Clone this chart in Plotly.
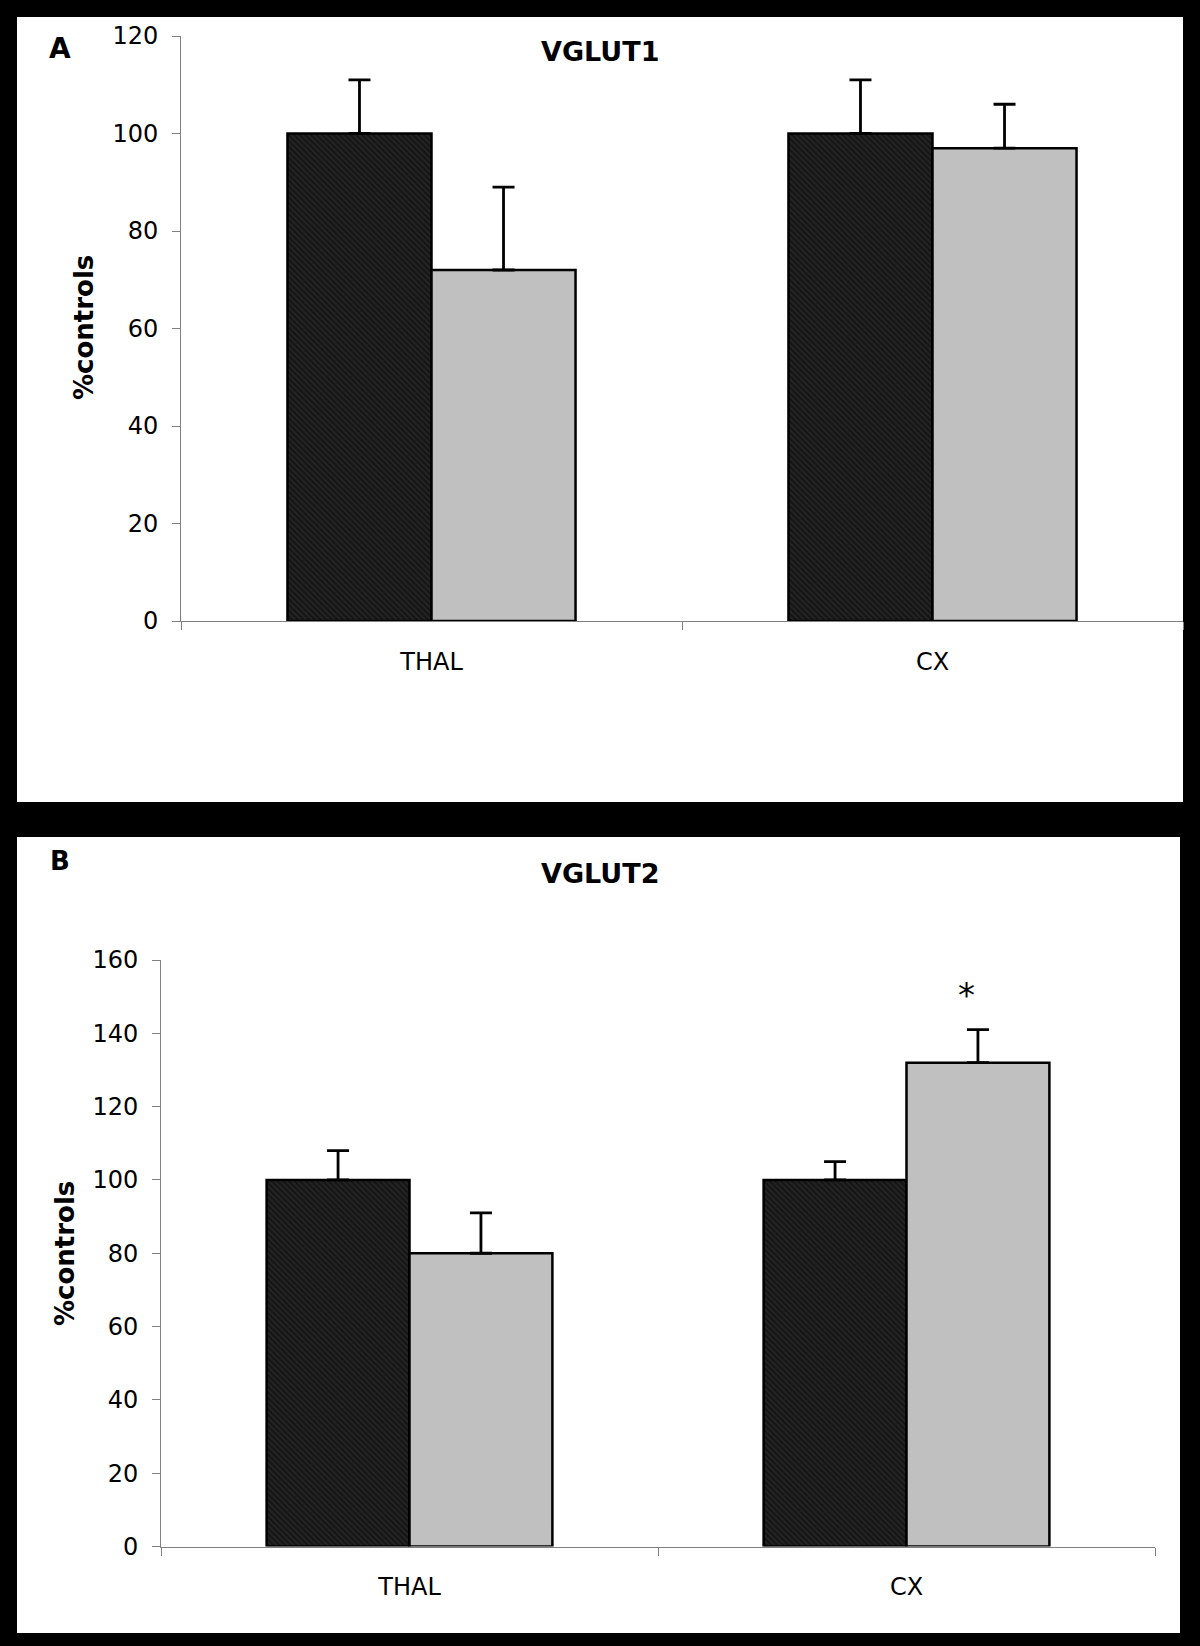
import plotly.graph_objects as go

# ---- data ----
regions = ["THAL", "CX"]
vglut1_control = [100, 100]
vglut1_control_err = [11, 11]
vglut1_treated = [72, 97]
vglut1_treated_err = [17, 9]

vglut2_control = [100, 100]
vglut2_control_err = [8, 5]
vglut2_treated = [80, 132]
vglut2_treated_err = [11, 9]

y1_ticks = [0, 20, 40, 60, 80, 100, 120]
y2_ticks = [0, 20, 40, 60, 80, 100, 120, 140, 160]

W, H = 1200, 1646
FONT = "DejaVu Sans"
AXC = "#808080"


def px(x):
    return x / W


def py(y):
    return 1 - y / H


fig = go.Figure()


def add_bars(xa, ya, ctrl, ctrl_err, trt, trt_err):
    fig.add_trace(go.Bar(
        x=regions, y=ctrl, xaxis=xa, yaxis=ya, name="Control",
        marker=dict(color="#1a1a1a", line=dict(color="black", width=2.5),
                    pattern=dict(shape="\\", fgcolor="#3a3a3a", bgcolor="#161616",
                                 size=4, solidity=0.35)),
        error_y=dict(type="data", array=ctrl_err, arrayminus=[0, 0], symmetric=False,
                     color="black", thickness=2.8, width=11),
        showlegend=False,
    ))
    fig.add_trace(go.Bar(
        x=regions, y=trt, xaxis=xa, yaxis=ya, name="Treated",
        marker=dict(color="#c0c0c0", line=dict(color="black", width=2.5)),
        error_y=dict(type="data", array=trt_err, arrayminus=[0, 0], symmetric=False,
                     color="black", thickness=2.8, width=11),
        showlegend=False,
    ))


add_bars("x", "y", vglut1_control, vglut1_control_err, vglut1_treated, vglut1_treated_err)
add_bars("x2", "y2", vglut2_control, vglut2_control_err, vglut2_treated, vglut2_treated_err)

tickfont = dict(family=FONT, size=24, color="black")
xcommon = dict(type="category", range=[-0.5, 1.5], showline=True, linecolor=AXC, linewidth=1,
               ticks="outside", tickson="boundaries", ticklen=8, tickcolor=AXC,
               showgrid=False, zeroline=False, tickfont=tickfont, ticklabelstandoff=19,
               automargin=False, fixedrange=True)
ycommon = dict(showline=True, linecolor=AXC, linewidth=1, ticks="outside", ticklen=8,
               tickcolor=AXC, showgrid=False, zeroline=False, tickfont=tickfont,
               ticklabelstandoff=9, automargin=False, fixedrange=True)

fig.update_layout(
    width=W, height=H,
    margin=dict(l=0, r=0, t=0, b=0),
    paper_bgcolor="black", plot_bgcolor="white",
    barmode="group", bargap=0.425, bargroupgap=0,
    font=dict(family=FONT, color="black"),
    xaxis=dict(domain=[px(181), px(1183)], anchor="y", **xcommon),
    yaxis=dict(domain=[py(621), py(36)], anchor="x", range=[0, 120], tickvals=y1_ticks, **ycommon),
    xaxis2=dict(domain=[px(161), px(1155)], anchor="y2", **xcommon),
    yaxis2=dict(domain=[py(1546.5), py(960)], anchor="x2", range=[0, 160], tickvals=y2_ticks, **ycommon),
    shapes=[
        dict(type="rect", xref="paper", yref="paper", x0=px(17), x1=px(1183), y0=py(802), y1=py(17),
             fillcolor="white", line=dict(width=0), layer="below"),
        dict(type="rect", xref="paper", yref="paper", x0=px(17), x1=px(1180), y0=py(1633), y1=py(837),
             fillcolor="white", line=dict(width=0), layer="below"),
    ],
)


def ann(text, x, y, size, bold=False, angle=0):
    fig.add_annotation(text=f"<b>{text}</b>" if bold else text, xref="paper", yref="paper",
                       x=px(x), y=py(y), xanchor="center", yanchor="middle", showarrow=False,
                       textangle=angle, font=dict(family=FONT, size=size, color="black"))


ann("A", 60, 49, 28, bold=True)
ann("VGLUT1", 600, 52, 27, bold=True)
ann("%controls", 84, 328, 26, bold=True, angle=-90)
ann("B", 60, 861, 26, bold=True)
ann("VGLUT2", 600, 873, 27, bold=True)
ann("%controls", 65, 1254, 26, bold=True, angle=-90)
ann("*", 966, 995, 34)

fig.write_html(
    "out.html",
    config={"displayModeBar": False},
    post_script="document.body.style.margin='0';document.body.style.padding='0';"
                "document.body.style.background='black';",
)
